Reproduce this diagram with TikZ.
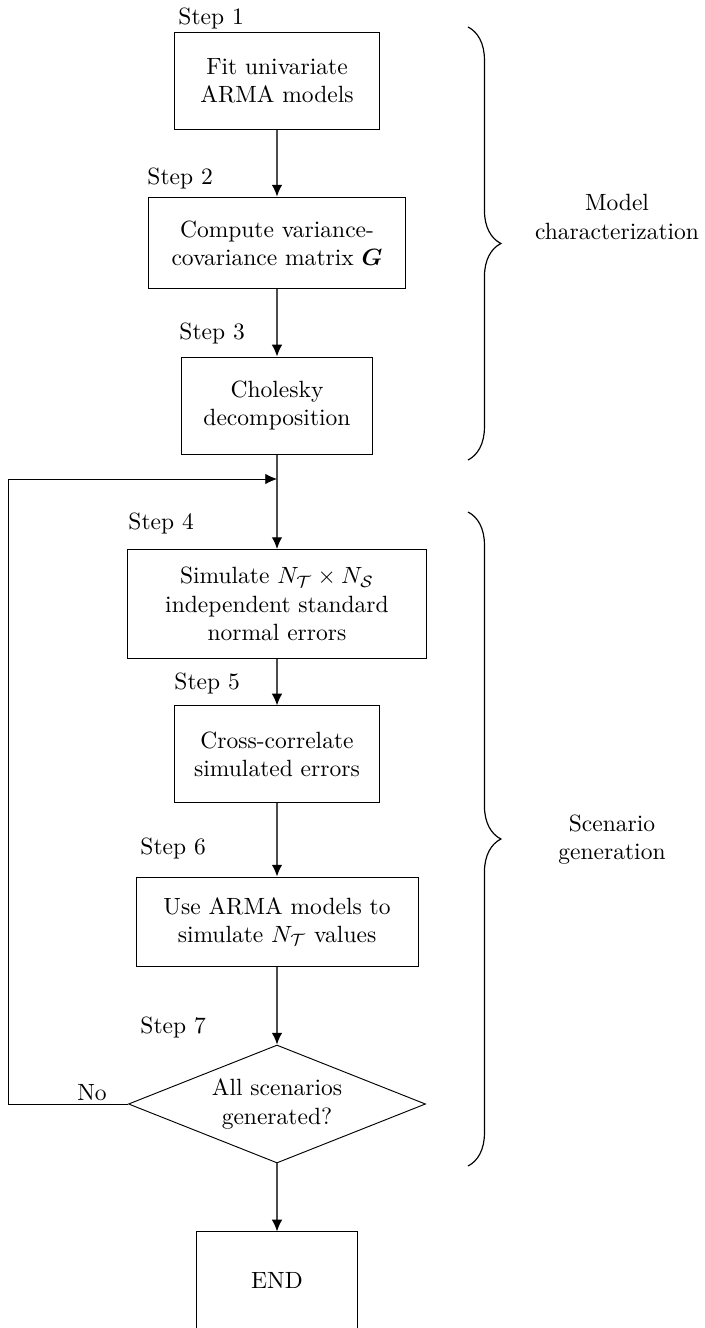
\documentclass[tikz,border=0pt]{standalone}
\usepackage{amsmath}
\usepackage{amssymb}
\usepackage{bm}
\usepackage{tikz}
\usetikzlibrary{arrows.meta}
\usetikzlibrary{shapes.geometric}
\usetikzlibrary{decorations.pathreplacing}

\tikzset{
    stepbox/.style={draw, rectangle, align=center, inner sep=2pt, line width=0.4pt},
    decision/.style={draw, diamond, aspect=2.52, align=center, inner sep=0pt, line width=0.4pt},
    flow/.style={draw=black!70, line width=0.6pt, -{Latex[black, length=5pt, width=4.5pt]}},
    steplabel/.style={anchor=west, inner sep=0pt},
    phase/.style={decorate, decoration={brace, amplitude=14pt}, line width=0.5pt},
}

\begin{document}
\begin{tikzpicture}[x=0.4255pt, y=-0.4255pt]
            \useasboundingbox (0,0) rectangle (704,1328);

            \node[stepbox, minimum width=87.2pt, minimum height=40.9pt] (fit) at (277,81) {Fit univariate\\ARMA models};
            \node[stepbox, minimum width=109.4pt, minimum height=39.1pt] (cov) at (277,243) {Compute variance-\\covariance matrix $\bm{G}$};
            \node[stepbox, minimum width=80.9pt, minimum height=41.3pt] (chol) at (277,405.5) {Cholesky\\decomposition};
            \node[stepbox, minimum width=127.2pt, minimum height=46.4pt] (sim) at (277,604) {Simulate $N_{\mathcal{T}}\times N_{\mathcal{S}}$\\independent standard\\normal errors};
            \node[stepbox, minimum width=87.2pt, minimum height=40.9pt] (corr) at (277,754) {Cross-correlate\\simulated errors};
            \node[stepbox, minimum width=120pt, minimum height=37.9pt] (arma) at (277,921.5) {Use ARMA models to\\simulate $N_{\mathcal{T}}$ values};
            \node[decision, minimum width=126.4pt, minimum height=50.2pt] (done) at (277,1104) {All scenarios\\generated?};
            \node[stepbox, minimum width=68.5pt, minimum height=40.9pt] (finish) at (277,1280) {END};

            \node[steplabel] (s1) at (178,18) {Step 1};
            \node[steplabel] (s2) at (147,178) {Step 2};
            \node[steplabel] (s3) at (179,333) {Step 3};
            \node[steplabel] (s4) at (128,523) {Step 4};
            \node[steplabel] (s5) at (174,683) {Step 5};
            \node[steplabel] (s6) at (140,848) {Step 6};
            \node[steplabel] (s7) at (140,1027) {Step 7};

            \draw[flow] (fit) -- (cov);
            \draw[flow] (cov) -- (chol);
            \draw[flow] (chol) -- (sim);
            \draw[flow] (sim) -- (corr);
            \draw[flow] (corr) -- (arma);
            \draw[flow] (arma) -- (done);
            \draw[flow] (done) -- (finish);

            \coordinate (back) at (8,479);
            \coordinate (merge) at (277,479);
            \draw[line width=0.4pt, -{Latex[length=5pt, width=4.5pt]}] (done.west) -| (back) -- (merge);
            \node (no) at (92,1093) {No};

            \draw[phase] (468,27) -- (468,460);
            \node[align=center] (model) at (617,217) {Model\\characterization};

            \draw[phase] (468,512) -- (468,1166);
            \node[align=center] (scen) at (612,840) {Scenario\\generation};
        \end{tikzpicture}
\end{document}
